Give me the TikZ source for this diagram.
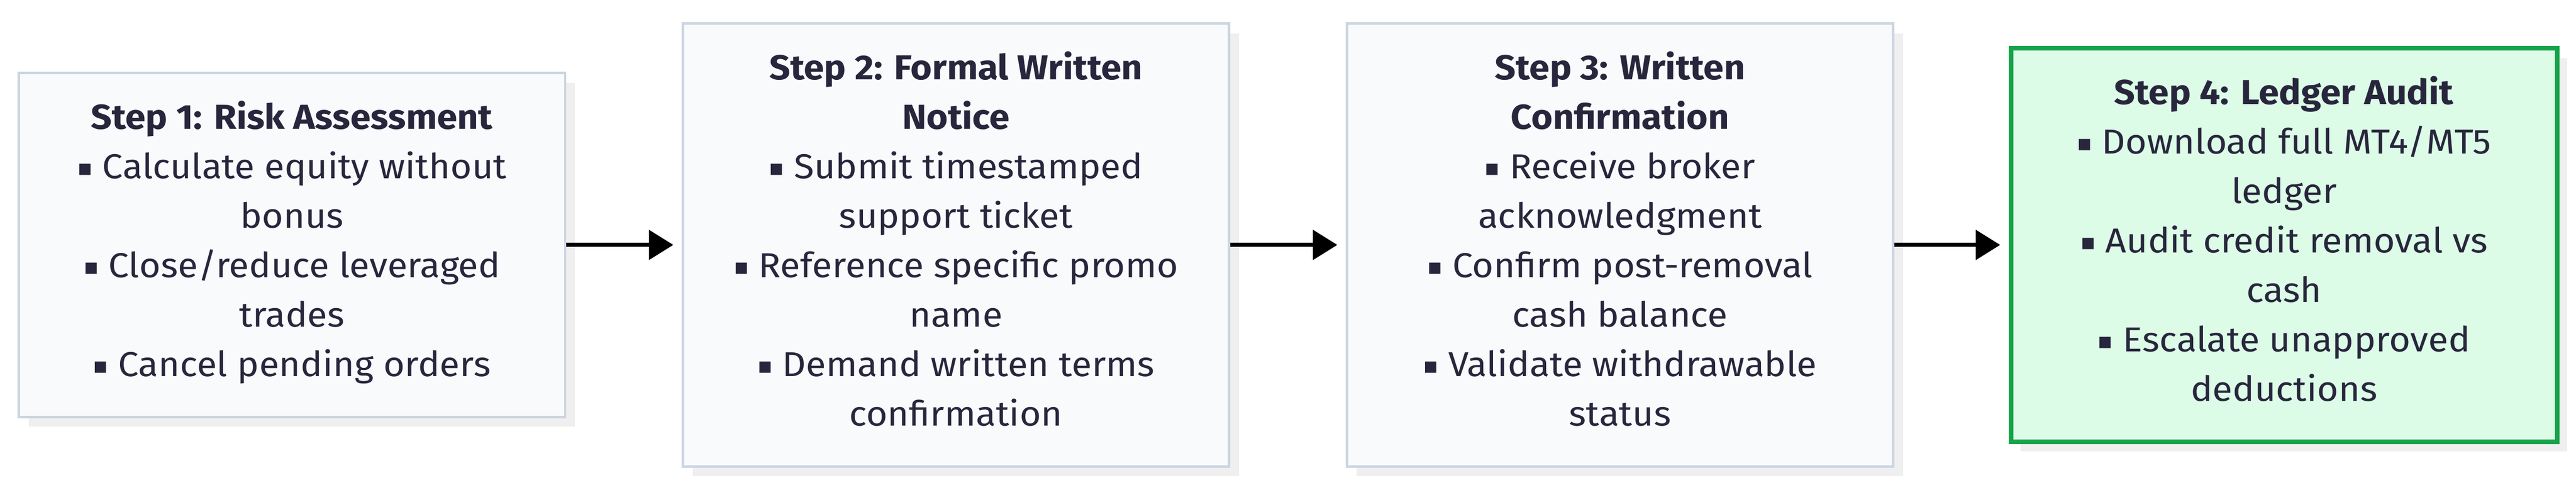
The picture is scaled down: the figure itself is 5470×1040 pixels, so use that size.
\documentclass[tikz,border=0pt]{standalone}
\usepackage{fontspec}
\setmainfont{Fira Sans}[FakeStretch=1.06]
\newfontfamily\bulletfont{DejaVu Sans}
\usetikzlibrary{arrows.meta,shadows}
\definecolor{boxfill}{HTML}{F8FAFC}
\definecolor{boxline}{HTML}{CBD5E1}
\definecolor{donefill}{HTML}{DCFCE7}
\definecolor{doneline}{HTML}{16A34A}
\definecolor{shadowgray}{HTML}{EFEFEF}
\definecolor{textdark}{HTML}{28263C}
\newcommand{\pt}{\raisebox{1.6pt}{\bulletfont\fontsize{12}{12}\selectfont ▪}\ }
\begin{document}
\begin{tikzpicture}[x=0.25pt,y=-0.25pt, line join=miter,
	stepbox/.style={draw=boxline,fill=boxfill,line width=1.25pt,
		minimum width=290pt,inner xsep=0pt,inner ysep=15pt,
		align=center,text=textdark,
		execute at begin node=\rule{0pt}{19.75pt},
		execute at end node=\rule[-6.5pt]{0pt}{6.5pt},
		font=\fontsize{18.4}{26.25}\selectfont,
		drop shadow={shadow xshift=5.25pt,shadow yshift=-5.25pt,fill=shadowgray,opacity=1}},
	donebox/.style={stepbox,draw=doneline,fill=donefill,line width=2.5pt},
	flow/.style={-{Triangle[length=13pt,width=15.5pt]},line width=2.25pt,black,shorten >=4.4pt}]
	\useasboundingbox (0,0) rectangle (5470,1040);
	%\draw[help lines] (0,0) grid[step=100] (5470,1040);
	\node[stepbox] (risk) at (620,520) {\textbf{Step 1: Risk Assessment}\\
		\pt Calculate equity without\\ bonus\\
		\pt Close/reduce leveraged\\ trades\\
		\pt Cancel pending orders};
	\node[stepbox] (notice) at (2030,520) {\textbf{Step 2: Formal Written}\\ \textbf{Notice}\\
		\pt Submit timestamped\\ support ticket\\
		\pt Reference specific promo\\ name\\
		\pt Demand written terms\\ confirmation};
	\node[stepbox] (confirm) at (3440,520) {\textbf{Step 3: Written}\\ \textbf{Confirmation}\\
		\pt Receive broker\\ acknowledgment\\
		\pt Confirm post-removal\\ cash balance\\
		\pt Validate withdrawable\\ status};
	\node[donebox] (audit) at (4850,520) {\textbf{Step 4: Ledger Audit}\\
		\pt Download full MT4/MT5\\ ledger\\
		\pt Audit credit removal vs\\ cash\\
		\pt Escalate unapproved\\ deductions};
	\draw[flow] (risk.east) -- (notice.west);
	\draw[flow] (notice.east) -- (confirm.west);
	\draw[flow] (confirm.east) -- (audit.west);
\end{tikzpicture}
\end{document}
